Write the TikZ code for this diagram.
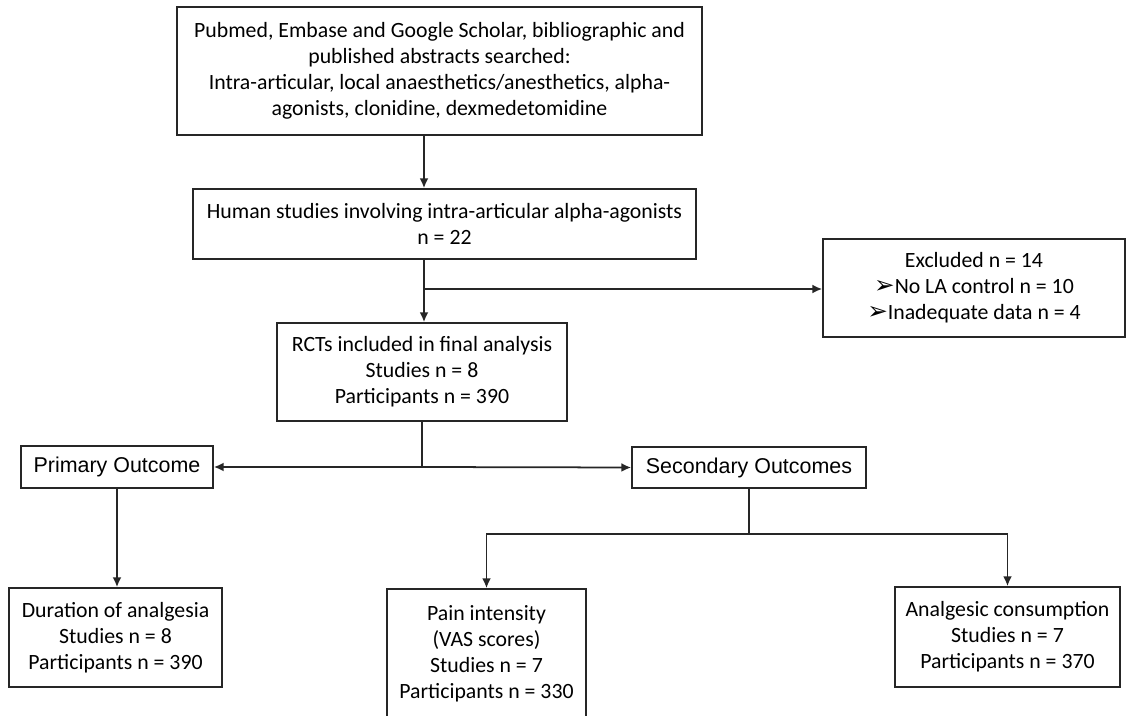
\documentclass[tikz,border=0pt]{standalone}
\usepackage{fontspec}
\setmainfont{Carlito}
\newfontfamily\arialfont{Liberation Sans}
\newfontfamily\dingfont{DejaVu Sans}
\usetikzlibrary{arrows.meta}

\newcommand{\pick}{{\dingfont\fontsize{14}{14}\selectfont\char"27A2}}

\begin{document}
\begin{tikzpicture}[
      x=0.02cm, y=-0.02cm,
      box/.style={draw=black!85, line width=1pt, rectangle, inner sep=0pt, align=center,
                  font=\fontsize{12.4}{14.8}\selectfont}, % all the boxes
      outcome/.style={box, font=\arialfont\fontsize{12.2}{14.8}\selectfont},
      link/.style={draw=black!85, line width=1pt},
      arr/.style={link, -{Latex[length=5.5pt, width=5pt]}}
    ]
    \useasboundingbox (0,0) rectangle (1127,716);
    % Search and screening
    \node [box, minimum width=10.5cm, minimum height=2.56cm] (search) at (439.5,71)
      {Pubmed, Embase and Google Scholar, bibliographic and\\
       published abstracts searched:\\
       Intra-articular, local anaesthetics/anesthetics, alpha-\\
       agonists, clonidine, dexmedetomidine};
    \node [box, minimum width=10.06cm, minimum height=1.4cm] (human) at (444.5,224)
      {Human studies involving intra-articular alpha-agonists\\ n = 22};
    \node [box, minimum width=6.04cm, minimum height=1.96cm] (excluded) at (974,288)
      {Excluded n = 14\\ \pick No LA control n = 10\\ \pick Inadequate data n = 4};
    \node [box, minimum width=5.8cm, minimum height=1.96cm] (rct) at (422,372)
      {RCTs included in final analysis\\ Studies n = 8\\ Participants n = 390};
    % Outcomes
    \node [outcome, minimum width=3.84cm, minimum height=0.84cm] (primary) at (117,467) {Primary Outcome};
    \node [outcome, minimum width=4.68cm, minimum height=0.82cm] (secondary) at (749,467.5) {Secondary Outcomes};
    \node [box, minimum width=4.26cm, minimum height=1.98cm] (duration) at (115.5,637.5)
      {Duration of analgesia\\ Studies n = 8\\ Participants n = 390};
    \node [box, minimum width=3.98cm, minimum height=2.58cm] (pain) at (486.5,653.5)
      {Pain intensity\\ (VAS scores)\\ Studies n = 7\\ Participants n = 330};
    \node [box, minimum width=4.5cm, minimum height=2cm] (consumption) at (1007.5,637)
      {Analgesic consumption\\ Studies n = 7\\ Participants n = 370};

    % Connectors
    \coordinate (spine) at (424,0);
    \draw [arr] (search.south -| spine) -- (human.north -| spine);
    \draw [arr] (human.south -| spine) -- (rct.north -| spine);
    \coordinate (excl) at (424,289);
    \draw [arr] (excl) -- (excl -| excluded.west);
    \draw [link] (rct.south) -- (rct.south |- primary.east) coordinate (split);
    \draw [arr] (split) -- (primary.east);
    \draw [arr] (split) -- (secondary.west);
    \draw [arr] (primary.south) -- (primary.south |- duration.north);
    \draw [link] (secondary.south) -- ++(0,45) coordinate (fork);
    \draw [arr] (fork) -| (pain.north);
    \draw [arr] (fork) -| (consumption.north);
\end{tikzpicture}
\end{document}
